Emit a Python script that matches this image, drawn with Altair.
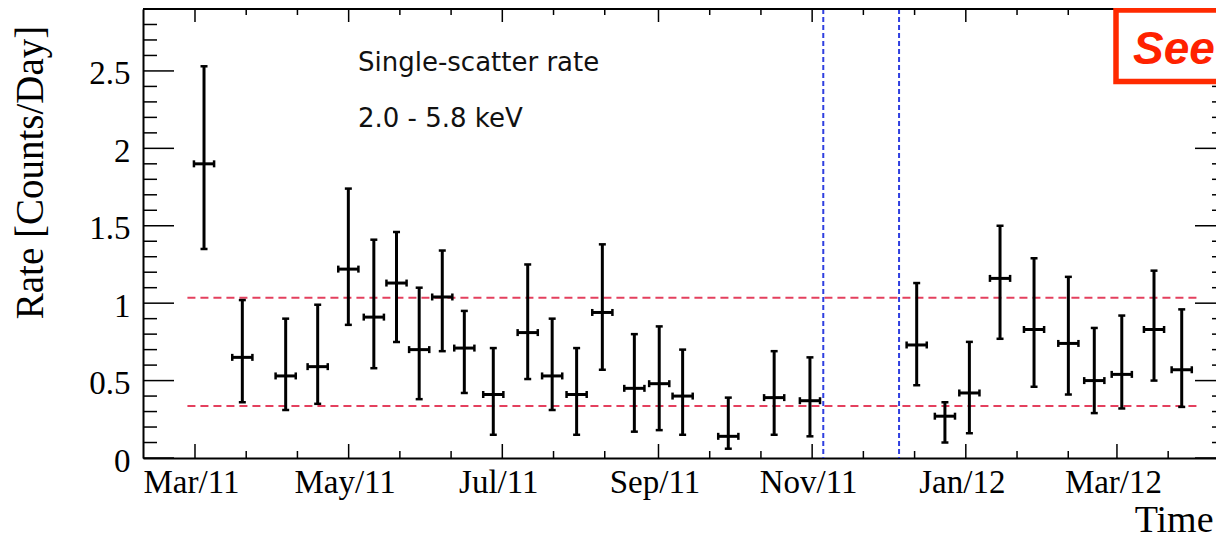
import altair as alt
import pandas as pd

# ---------------- data ----------------
obs_dates = [
    "2011-03-04T14:00", "2011-03-19T19:00", "2011-04-06T00:00", "2011-04-18T17:00",
    "2011-04-30T21:00", "2011-05-11T00:00", "2011-05-20T00:00", "2011-05-29T00:00",
    "2011-06-07T04:00", "2011-06-15T22:00", "2011-06-27T10:00", "2011-07-11T02:00",
    "2011-07-20T19:00", "2011-07-30T12:00", "2011-08-09T17:00", "2011-08-22T10:00",
    "2011-09-01T07:00", "2011-09-10T14:00", "2011-09-28T17:00", "2011-10-16T22:00",
    "2011-10-31T03:00", "2011-12-12T12:00", "2011-12-23T17:00", "2012-01-02T10:00",
    "2012-01-14T14:00", "2012-01-28T02:00", "2012-02-10T17:00", "2012-02-21T00:00",
    "2012-03-02T22:00", "2012-03-15T17:00", "2012-03-26T17:00",
]
obs_rate = [1.90, 0.65, 0.53, 0.59, 1.22, 0.91, 1.13, 0.70, 1.04, 0.71, 0.41, 0.81,
            0.53, 0.41, 0.94, 0.45, 0.48, 0.40, 0.14, 0.39, 0.37, 0.73, 0.27, 0.42,
            1.16, 0.83, 0.74, 0.50, 0.54, 0.83, 0.57]
obs_low = [1.35, 0.36, 0.31, 0.35, 0.86, 0.58, 0.75, 0.38, 0.69, 0.42, 0.15, 0.51,
           0.31, 0.15, 0.57, 0.17, 0.18, 0.15, 0.06, 0.15, 0.14, 0.47, 0.10, 0.16,
           0.77, 0.46, 0.41, 0.29, 0.32, 0.50, 0.33]
obs_high = [2.53, 1.02, 0.90, 0.99, 1.74, 1.41, 1.46, 1.10, 1.34, 0.95, 0.71, 1.25,
            0.90, 0.71, 1.38, 0.80, 0.85, 0.70, 0.39, 0.69, 0.65, 1.13, 0.36, 0.75,
            1.50, 1.29, 1.17, 0.84, 0.92, 1.21, 0.96]
BIN_HALF_DAYS = 4

band_levels = [1.035, 0.336]
band_span = ["2011-02-26T00:00", "2012-04-02T00:00"]
cut_dates = ["2011-11-05T10:00", "2011-12-05T12:00"]

x_domain = ["2011-02-08T08:40", "2012-04-09T07:40"]
x_major = ["2011-03-01T00:00", "2011-05-01T00:00", "2011-07-01T00:00", "2011-09-01T00:00",
           "2011-11-01T00:00", "2012-01-01T00:00", "2012-03-01T00:00"]
x_minor = ["2011-03-21T08:00", "2011-04-10T16:00", "2011-05-21T08:00", "2011-06-10T16:00",
           "2011-07-21T08:00", "2011-08-10T16:00", "2011-09-21T08:00", "2011-10-11T16:00",
           "2011-11-21T08:00", "2011-12-11T16:00", "2012-01-21T08:00", "2012-02-10T16:00",
           "2012-03-21T08:00"]
y_domain = [0, 2.9]
y_major = [0, 0.5, 1, 1.5, 2, 2.5]
y_minor = [0.1, 0.2, 0.3, 0.4, 0.6, 0.7, 0.8, 0.9, 1.1, 1.2, 1.3, 1.4,
           1.6, 1.7, 1.8, 1.9, 2.1, 2.2, 2.3, 2.4, 2.6, 2.7, 2.8]

label_lines = ["Single-scatter rate", "2.0 - 5.8 keV"]
badge_text = "See"
x_title = "Time"
y_title = "Rate [Counts/Day]"

# ---------------- layout / style ----------------
W, H = 1073, 449
SERIF = "Liberation Serif"
RED = "#e4405e"
BLUE = "#2f3fe0"


def dt(s):
    t = pd.Timestamp(s)
    return alt.DateTime(year=t.year, month=t.month, date=t.day, hours=t.hour, minutes=t.minute)


obs = pd.DataFrame({"date": pd.to_datetime(obs_dates), "rate": obs_rate,
                    "low": obs_low, "high": obs_high})
obs["xlo"] = obs["date"] - pd.Timedelta(days=BIN_HALF_DAYS)
obs["xhi"] = obs["date"] + pd.Timedelta(days=BIN_HALF_DAYS)

band_df = pd.DataFrame({"level": band_levels,
                        "x0": pd.to_datetime([band_span[0]] * len(band_levels)),
                        "x1": pd.to_datetime([band_span[1]] * len(band_levels))})
cut_df = pd.DataFrame({"d": pd.to_datetime(cut_dates)})
xmaj_df = pd.DataFrame({"t": pd.to_datetime(x_major)})
xmin_df = pd.DataFrame({"t": pd.to_datetime(x_minor)})
ymaj_df = pd.DataFrame({"v": y_major})
ymin_df = pd.DataFrame({"v": y_minor})
one = pd.DataFrame({"k": [0]})

xs = alt.Scale(domain=[dt(x_domain[0]), dt(x_domain[1])], nice=False)
ys = alt.Scale(domain=y_domain, nice=False, zero=False)

x_axis = alt.Axis(
    values=[dt(s) for s in x_major], format="%b/%y",
    labelPadding=8, labelOffset=-4,
    title=x_title, titleX=1070, titleY=73, titleAlign="right", titleBaseline="alphabetic",
)
y_axis = alt.Axis(
    values=y_major, format="~g",
    labelPadding=13, labelOffset=3,
    title=y_title, titleAngle=270, titleX=-101, titleY=163, titleAlign="center",
    titleBaseline="alphabetic",
)

bands = alt.Chart(band_df).mark_rule(color=RED, strokeWidth=2, strokeDash=[8, 5]).encode(
    x=alt.X("x0:T", scale=xs, axis=x_axis), x2="x1:T",
    y=alt.Y("level:Q", scale=ys, axis=y_axis))

cuts = alt.Chart(cut_df).mark_rule(color=BLUE, strokeWidth=2, strokeDash=[5, 3]).encode(
    x=alt.X("d:T", scale=xs))

vbars = alt.Chart(obs).mark_rule(color="black", strokeWidth=3).encode(
    x=alt.X("date:T", scale=xs),
    y=alt.Y("low:Q", scale=ys), y2="high:Q")
hbars = alt.Chart(obs).mark_rule(color="black", strokeWidth=3).encode(
    x=alt.X("xlo:T", scale=xs), x2="xhi:T",
    y=alt.Y("rate:Q", scale=ys))

cap_style = dict(color="black", opacity=1, thickness=2.5, size=7)
cap_lo = alt.Chart(obs).mark_tick(orient="horizontal", **cap_style).encode(
    x=alt.X("date:T", scale=xs), y=alt.Y("low:Q", scale=ys))
cap_hi = alt.Chart(obs).mark_tick(orient="horizontal", **cap_style).encode(
    x=alt.X("date:T", scale=xs), y=alt.Y("high:Q", scale=ys))
cap_l = alt.Chart(obs).mark_tick(orient="vertical", **cap_style).encode(
    x=alt.X("xlo:T", scale=xs), y=alt.Y("rate:Q", scale=ys))
cap_r = alt.Chart(obs).mark_tick(orient="vertical", **cap_style).encode(
    x=alt.X("xhi:T", scale=xs), y=alt.Y("rate:Q", scale=ys))


def xticks(df, y0, y1):
    return alt.Chart(df).mark_rule(color="black", strokeWidth=1.5).encode(
        x=alt.X("t:T", scale=xs), y=alt.value(y0), y2=alt.value(y1))


def yticks(df, x0, x1):
    return alt.Chart(df).mark_rule(color="black", strokeWidth=1.5).encode(
        y=alt.Y("v:Q", scale=ys), x=alt.value(x0), x2=alt.value(x1))


tick_layers = [
    xticks(xmaj_df, H, H - 14), xticks(xmin_df, H, H - 7),
    xticks(xmaj_df, 0, 13), xticks(xmin_df, 0, 6),
    yticks(ymaj_df, 0, 31), yticks(ymin_df, 0, 14),
    yticks(ymaj_df, W, W - 21), yticks(ymin_df, W, W - 4),
]

frame_top = alt.Chart(one).mark_rule(color="black", strokeWidth=2).encode(
    x=alt.value(0), x2=alt.value(W), y=alt.value(0))

labels = alt.Chart(one).mark_text(
    text=label_lines, lineHeight=56, align="left", baseline="alphabetic",
    font="DejaVu Sans", fontSize=26, color="#111111").encode(
    x=alt.value(215), y=alt.value(62))

badge_box = alt.Chart(one).mark_rect(fill="white", stroke="#ff2a00", strokeWidth=5.5).encode(
    x=alt.value(973), x2=alt.value(1130), y=alt.value(1), y2=alt.value(72.5))
badge = alt.Chart(one).mark_text(
    text=badge_text, align="left", baseline="alphabetic", font="Liberation Sans",
    fontSize=46, fontStyle="italic", fontWeight="bold", color="#ff2200").encode(
    x=alt.value(990), y=alt.value(55))

chart = alt.layer(
    bands, cuts, vbars, hbars, cap_lo, cap_hi, cap_l, cap_r,
    *tick_layers, frame_top, labels, badge_box, badge,
).properties(
    width=W, height=H,
    autosize=alt.AutoSizeParams(type="none"),
    padding={"left": 135, "top": 1, "right": 0, "bottom": 82},
    background="white",
).configure_view(
    stroke=None
).configure_axis(
    labelFont=SERIF, labelFontSize=33, labelColor="black",
    labelFlush=False, labelOverlap=False,
    ticks=False, tickSize=0, domain=True, domainColor="black", domainWidth=2, grid=False,
    titleFont=SERIF, titleFontWeight="normal", titleColor="black",
).configure_axisX(
    titleFontSize=38
).configure_axisY(
    titleFontSize=39
)

chart.save("out.html", embed_options={"renderer": "svg", "actions": False})
